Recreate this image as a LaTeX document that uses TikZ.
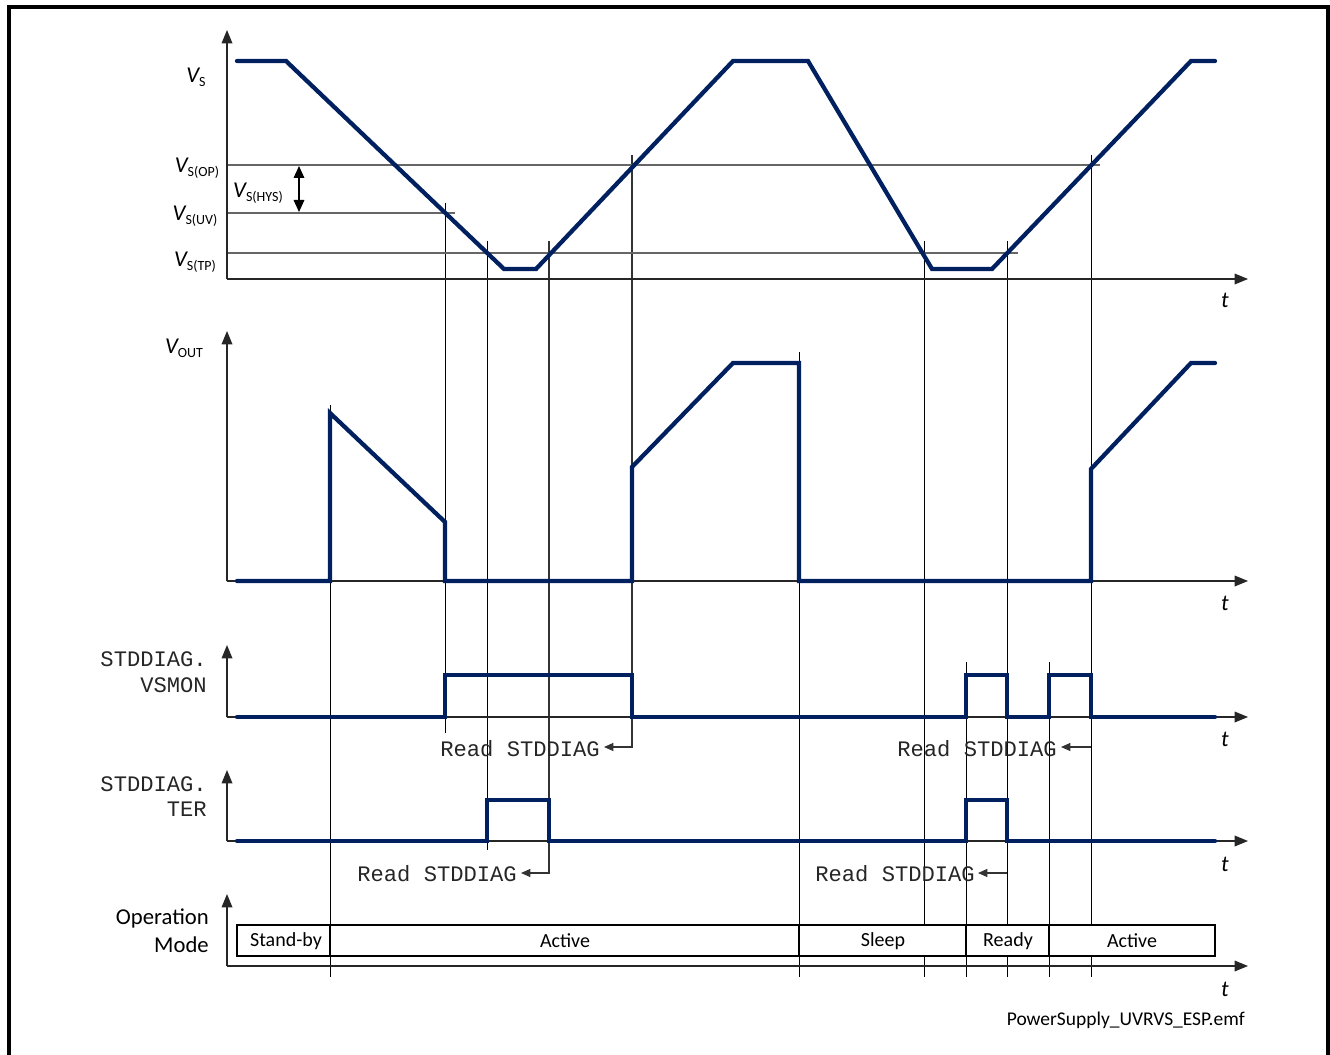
\documentclass[tikz,border=0pt]{standalone}
\usepackage{fontspec}
\setmainfont{Carlito}
\newfontfamily\monof{Liberation Mono}
\usetikzlibrary{arrows.meta}
\definecolor{wave}{RGB}{0,32,96}
\newcommand\VV[1]{{\itshape V}\raisebox{-0.35ex}{\fontsize{10.5}{10.5}\selectfont #1}}
\begin{document}
\begin{tikzpicture}[x=0.75pt,y=-0.75pt,
 wav/.style={draw=wave,line width=3.2pt,line cap=round,line join=miter},
 axis/.style={draw=black!85,line width=0.9pt,-{Triangle[length=10pt,width=8pt]}},
 thr/.style={draw=black!60,line width=0.9pt},
 vmk/.style={draw=black,line width=0.6pt},
 rd/.style={draw=black!80,line width=0.8pt,-{Triangle[length=7pt,width=6pt]}},
 mono/.style={font=\monof\fontsize{16.6}{16.6}\selectfont,inner sep=0pt,text=black!85},
 lbl/.style={font=\fontsize{15}{15}\selectfont,inner sep=0pt},
 vlbl/.style={font=\fontsize{17}{17}\selectfont,inner sep=0pt},
 tl/.style={font=\itshape\fontsize{17}{17}\selectfont,inner sep=0pt}]
\useasboundingbox (0,0) rectangle (1330,1055);
% frame
\draw[line width=2.4pt] (9,1060) -- (9,7) -- (1328,7) -- (1328,1060);

% marker lines
\draw[vmk] (330,405) -- (330,977);
\draw[vmk] (445,203) -- (445,733);
\draw[vmk] (487,241) -- (487,850);
\draw[rd] (549,241) -- (549,873) -- (521,873);
\draw[rd] (632,155) -- (632,747) -- (604,747);
\draw[vmk] (799,352) -- (799,977);
\draw[vmk] (924,241) -- (924,977);
\draw[vmk] (966,662) -- (966,977);
\draw[vmk] (1007,241) -- (1007,977);
\draw[rd] (1007,873) -- (978,873);
\draw[vmk] (1049,662) -- (1049,977);
\draw[vmk] (1091,155) -- (1091,977);
\draw[rd] (1091,747) -- (1061,747);

% thresholds
\draw[thr] (227,165) -- (1100,165);
\draw[thr] (227,213) -- (455,213);
\draw[thr] (227,253) -- (1018,253);
\draw[line width=0.8pt,{Triangle[length=9pt,width=8pt]}-{Triangle[length=9pt,width=8pt]}] (299,166) -- (299,212);

% axes
\draw[axis] (227,279) -- (227,30);
\draw[axis] (227,279) -- (1248,279);
\draw[axis] (227,581) -- (227,331);
\draw[axis] (227,581) -- (1248,581);
\draw[axis] (227,717) -- (227,645);
\draw[axis] (227,717) -- (1248,717);
\draw[axis] (227,841) -- (227,770);
\draw[axis] (227,841) -- (1248,841);
\draw[axis] (227,966) -- (227,894);
\draw[axis] (227,966) -- (1248,966);

% mode boxes
\draw[fill=white,line width=0.9pt] (237,925) rectangle (1215,956);
\foreach \xx in {330,799,966,1049} \draw[line width=0.9pt] (\xx,925) -- (\xx,956);
\node[lbl] (m1) at (286,941) {Stand-by};
\node[lbl] (m2) at (565,941) {Active};
\node[lbl] (m3) at (883,941) {Sleep};
\node[lbl] (m4) at (1008,941) {Ready};
\node[lbl] (m5) at (1132,941) {Active};

% waveforms
\draw[wav] (237,61) -- (286,61) -- (504,269) -- (536,269) -- (733,61) -- (808,61) -- (932,269) -- (992,269) -- (1191,61) -- (1215,61);
\draw[wav] (237,581) -- (330,581) -- (330,413) -- (445,522) -- (445,581) -- (632,581) -- (632,467) -- (733,363) -- (799,363) -- (799,581) -- (1091,581) -- (1091,469) -- (1191,363) -- (1215,363);
\draw[wav] (237,717) -- (445,717) -- (445,675) -- (632,675) -- (632,717) -- (966,717) -- (966,675) -- (1007,675) -- (1007,717) -- (1049,717) -- (1049,675) -- (1091,675) -- (1091,717) -- (1215,717);
\draw[wav] (237,841) -- (487,841) -- (487,800) -- (549,800) -- (549,841) -- (966,841) -- (966,800) -- (1007,800) -- (1007,841) -- (1215,841);

% value labels
\node[vlbl] (vs) at (196,77) {\VV{S}};
\node[vlbl] (vsop) at (197,168) {\VV{S(OP)}};
\node[vlbl] (vsuv) at (195,216) {\VV{S(UV)}};
\node[vlbl] (vstp) at (195,262) {\VV{S(TP)}};
\node[vlbl] (vshys) at (258,193) {\VV{S(HYS)}};
\node[vlbl] (vout) at (184,348) {\VV{OUT}};

% signal labels
\node[mono,anchor=east] (s1a) at (207,659) {STDDIAG.};
\node[mono,anchor=east] (s1b) at (207,685) {VSMON};
\node[mono,anchor=east] (s2a) at (207,784) {STDDIAG.};
\node[mono,anchor=east] (s2b) at (207,809) {TER};
\node[anchor=east,inner sep=0pt,font=\fontsize{17}{17}\selectfont] (om1) at (209,918) {Operation};
\node[anchor=east,inner sep=0pt,font=\fontsize{17}{17}\selectfont] (om2) at (209,945) {Mode};

% read labels
\node[mono,anchor=east] (r1) at (600,749) {Read STDDIAG};
\node[mono,anchor=east] (r2) at (1057,749) {Read STDDIAG};
\node[mono,anchor=east] (r3) at (517,874) {Read STDDIAG};
\node[mono,anchor=east] (r4) at (975,874) {Read STDDIAG};

% t labels
\foreach \yy/\nm in {300/t1,603/t2,739/t3,864/t4,989/t5} \node[tl] (\nm) at (1225,\yy) {t};

% footer
\node[anchor=east,inner sep=0pt,font=\fontsize{14.6}{14.6}\selectfont] (ft) at (1245,1020) {PowerSupply\_UVRVS\_ESP.emf};
\end{tikzpicture}
\end{document}
